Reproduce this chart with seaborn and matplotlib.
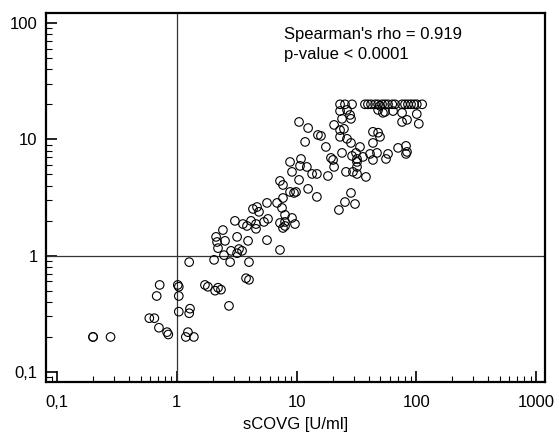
import numpy as np
import matplotlib
matplotlib.use("Agg")
import matplotlib.pyplot as plt
import matplotlib.ticker as mticker
import pandas as pd
import seaborn as sns

# sCOVG [U/ml] values
scovg = [0.2, 0.2, 0.28, 0.59, 0.65, 0.71, 0.72, 0.68, 0.83, 0.85,
         1.02, 1.04, 1.04, 1.04, 1.19, 1.24, 1.39, 1.27, 1.29, 1.27,
         1.72, 1.82, 2.09, 2.21, 2.34, 2.73, 2.05, 2.79, 4.01, 3.79,
         4.01, 2.13, 2.17, 2.21, 2.43, 2.53, 2.48, 2.84, 3.19, 3.31,
         3.51, 3.19, 3.94, 3.06, 3.57, 3.86, 4.17, 4.59, 4.59, 5.35,
         5.78, 5.67, 4.33, 4.68, 4.86, 5.67,
         6.88, 7.71, 7.57, 8.02, 9.17, 9.71, 7.28, 8.02, 7.71, 8.02,
         7.28, 7.28, 7.71, 10.5, 8.83, 9.53, 9.90, 12.5, 14.8, 9.17,
         13.5, 14.8, 18.3, 10.9, 8.83, 10.7, 12.2, 11.8, 17.6, 19.4,
         20.2, 20.6,
         10.5, 12.5, 15.1, 16.0, 20.6, 23.1, 24.9, 23.1, 26.4, 28.5,
         23.1, 26.4, 28.0, 28.5, 24.0,
         23.1, 25.4, 29.1, 37.3, 39.5, 41.9, 45.3, 48.0, 51.8, 54.8,
         58.1, 63.0, 66.5, 76.1, 80.5, 85.3, 90.4, 95.8, 101, 112,
         49.8, 54.8, 64.0, 48.0, 52.7, 76.1, 76.1, 83.7, 101, 105,
         43.5, 48.0, 49.8, 43.5, 33.9, 70.5, 82.1, 82.1, 83.7, 58.1,
         55.9, 47.0, 41.1, 43.5, 35.9, 29.1, 31.4, 32.0, 32.0, 29.6,
         32.0, 38.0, 28.5, 24.0, 32.0, 25.9, 25.4, 30.8, 22.6]

# second variable, same order
yvals = [0.2, 0.2, 0.2, 0.29, 0.29, 0.24, 0.56, 0.45, 0.22, 0.21,
         0.56, 0.54, 0.45, 0.33, 0.2, 0.22, 0.2, 0.32, 0.35, 0.88,
         0.56, 0.54, 0.50, 0.53, 0.51, 0.37, 0.92, 0.88, 0.88, 0.64,
         0.62, 1.45, 1.31, 1.16, 1.66, 1.34, 1.01, 1.10, 1.05, 1.14,
         1.10, 1.45, 1.34, 1.99, 1.87, 1.80, 1.99, 1.87, 1.70, 1.95,
         2.07, 1.36, 2.52, 2.62, 2.38, 2.84,
         2.84, 3.13, 2.57, 2.24, 2.11, 1.87, 1.91, 1.95, 1.73, 1.80,
         1.12, 4.39, 4.05, 4.48, 3.53, 3.46, 3.53, 3.75, 3.20, 5.25,
         5.04, 5.04, 4.84, 6.78, 6.39, 5.91, 5.79, 9.50, 8.60, 6.92,
         6.65, 5.79,
         14.1, 12.5, 10.9, 10.7, 13.3, 12.0, 12.3, 10.5, 10.1, 9.31,
         17.5, 17.9, 16.2, 15.0, 15.0,
         20, 20, 20, 20, 20, 20, 20, 20, 20, 20,
         20, 20, 20, 20, 20, 20, 20, 20, 20, 20,
         19.4, 17.2, 17.5, 17.9, 16.9, 16.9, 14.1, 14.7, 16.5, 13.6,
         11.6, 11.4, 10.5, 9.31, 8.60, 8.44, 8.78, 7.49, 7.79, 7.49,
         6.78, 7.64, 7.49, 6.65, 7.06, 7.20, 7.64, 6.78, 5.79, 5.25,
         5.04, 4.75, 3.46, 7.64, 6.39, 5.25, 2.89, 2.78, 2.47]

df = pd.DataFrame({"sCOVG": scovg, "y": yvals})

decades = [0.1, 1, 10, 100, 1000]
dec_labels = ["0,1", "1", "10", "100", "1000"]

sns.set_style("ticks")
plt.rcParams["font.family"] = ["Liberation Sans", "DejaVu Sans"]
plt.rcParams["text.color"] = "black"
plt.rcParams["axes.labelcolor"] = "black"
plt.rcParams["xtick.labelcolor"] = "black"
plt.rcParams["ytick.labelcolor"] = "black"

fig = plt.figure(figsize=(5.58, 4.36), dpi=100)
ax = fig.add_axes([0.0824, 0.1239, 0.8943, 0.8463])

ax.set_xscale("log")
ax.set_yscale("log")
ax.set_xlim(10 ** -1.092, 10 ** 3.075)
ax.set_ylim(10 ** -1.086, 10 ** 2.086)

# reference lines at 1
ax.axvline(1, color="#333333", lw=0.9, zorder=1)
ax.axhline(1, color="#333333", lw=0.9, zorder=1)

sns.scatterplot(data=df, x="sCOVG", y="y", ax=ax, s=38, marker="o",
                linewidth=0.8, zorder=3, legend=False)
pts = ax.collections[0]
pts.set_facecolor("none")
pts.set_edgecolor("black")

ax.xaxis.set_major_locator(mticker.FixedLocator(decades))
ax.xaxis.set_major_formatter(mticker.FixedFormatter(dec_labels))
ax.yaxis.set_major_locator(mticker.FixedLocator(decades[:4]))
ax.yaxis.set_major_formatter(mticker.FixedFormatter(dec_labels[:4]))
ax.xaxis.set_minor_locator(mticker.LogLocator(base=10, subs=np.arange(2, 10), numticks=20))
ax.yaxis.set_minor_locator(mticker.LogLocator(base=10, subs=np.arange(2, 10), numticks=20))
ax.xaxis.set_minor_formatter(mticker.NullFormatter())
ax.yaxis.set_minor_formatter(mticker.NullFormatter())

ax.tick_params(which="both", direction="in", top=False, right=False,
               color="black", labelcolor="black", labelsize=12, width=1.2)
ax.tick_params(which="major", length=8)
ax.tick_params(axis="x", which="major", pad=9.5)
ax.tick_params(axis="y", which="major", pad=6)
ax.tick_params(which="minor", length=4.5, width=0.8)

for sp in ax.spines.values():
    sp.set_linewidth(1.6)
    sp.set_color("black")

ax.set_xlabel("sCOVG [U/ml]", fontsize=12, labelpad=5)
ax.set_ylabel("")

ax.text(0.476, 0.963, "Spearman's rho = 0.919\np-value < 0.0001",
        transform=ax.transAxes, ha="left", va="top", fontsize=12,
        linespacing=1.45, color="black")

fig.savefig("out.png", dpi=100)
